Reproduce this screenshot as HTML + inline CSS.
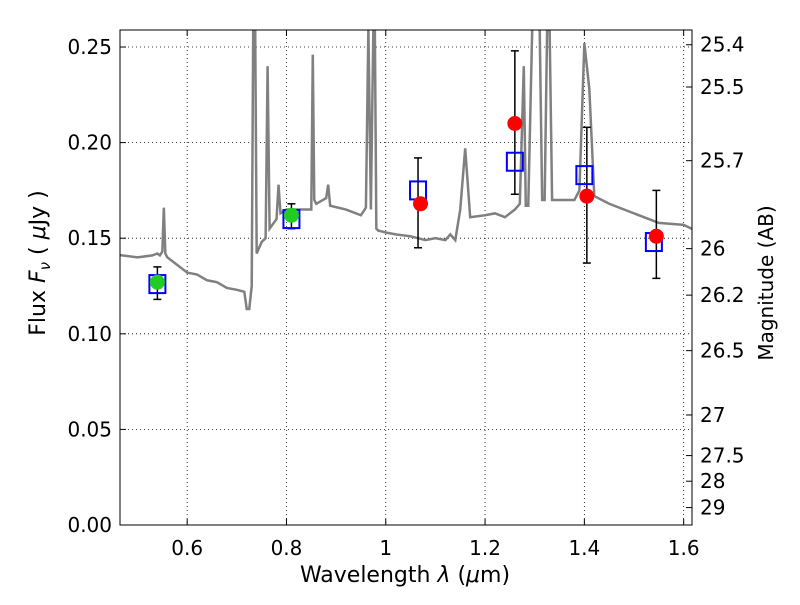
<!DOCTYPE html>
<html><head><meta charset="utf-8"><style>
body{margin:0;background:#fff;font-family:"Liberation Sans","DejaVu Sans",sans-serif}
svg text{font-family:"DejaVu Sans","Liberation Sans",sans-serif;fill:#000}
</style></head><body>
<svg id="chart" width="800" height="600" xmlns="http://www.w3.org/2000/svg">
<defs><clipPath id="clip"><rect x="120" y="30" width="572" height="495"/></clipPath></defs>
<rect x="0" y="0" width="800" height="600" fill="#fff"/>
<g id="grid"></g>
<g id="spec" clip-path="url(#clip)"></g>
<g id="marks"></g>
<rect x="120" y="30" width="572" height="495" fill="none" stroke="#000" stroke-width="1"/>
<g id="axes"></g>
<text x="405" y="582" font-size="22" text-anchor="middle">Wavelength  <tspan font-style="italic">λ</tspan> (<tspan font-style="italic">μ</tspan>m)</text>
<text transform="translate(45,263) rotate(-90)" font-size="22" text-anchor="middle">Flux  <tspan font-style="italic">F</tspan><tspan font-style="italic" font-size="15" dy="5">ν</tspan><tspan dy="-5">  ( </tspan><tspan font-style="italic">μ</tspan>Jy )</text>
<text transform="translate(773,283) rotate(-90)" font-size="20" text-anchor="middle">Magnitude (AB)</text>
</svg>
<script>
const xTicks=[0.6,0.8,1.0,1.2,1.4,1.6];
const xTickLabels=["0.6","0.8","1","1.2","1.4","1.6"];
const yTicks=[0,0.05,0.10,0.15,0.20,0.25];
const yTickLabels=["0.00","0.05","0.10","0.15","0.20","0.25"];
const magTicks=[25.4,25.5,25.7,26,26.2,26.5,27,27.5,28,29];
const specWave=[0.44,0.5,0.53,0.54,0.545,0.55,0.553,0.556,0.56,0.6,0.62,0.64,0.66,0.68,0.7,0.715,0.72,0.725,0.73,0.733,0.737,0.74,0.75,0.758,0.762,0.766,0.78,0.784,0.788,0.8,0.85,0.853,0.856,0.86,0.88,0.884,0.888,0.92,0.95,0.96,0.965,0.97,0.975,0.978,0.981,0.985,1.0,1.02,1.05,1.08,1.1,1.12,1.13,1.14,1.15,1.16,1.17,1.2,1.22,1.24,1.26,1.27,1.278,1.282,1.287,1.295,1.3,1.31,1.315,1.32,1.325,1.33,1.335,1.34,1.38,1.39,1.4,1.41,1.42,1.45,1.5,1.55,1.6,1.64];
const specFlux=[0.142,0.140,0.141,0.142,0.141,0.143,0.166,0.142,0.140,0.132,0.131,0.128,0.127,0.124,0.123,0.122,0.113,0.113,0.125,0.26,0.26,0.142,0.148,0.150,0.240,0.155,0.160,0.178,0.163,0.165,0.165,0.246,0.170,0.168,0.171,0.178,0.167,0.165,0.162,0.166,0.26,0.165,0.26,0.26,0.155,0.154,0.153,0.152,0.151,0.149,0.150,0.149,0.152,0.149,0.165,0.197,0.161,0.162,0.163,0.161,0.165,0.168,0.240,0.167,0.167,0.26,0.26,0.26,0.170,0.170,0.26,0.26,0.170,0.170,0.170,0.175,0.252,0.228,0.172,0.168,0.163,0.158,0.157,0.152];
const errWave=[0.54,0.81,1.065,1.26,1.405,1.545];
const errLow=[0.118,0.155,0.145,0.173,0.137,0.129];
const errHigh=[0.135,0.168,0.192,0.248,0.208,0.175];
const squareWave=[0.54,0.81,1.065,1.26,1.40,1.54];
const squareFlux=[0.126,0.160,0.175,0.190,0.183,0.148];
const greenWave=[0.54,0.81];
const greenFlux=[0.127,0.162];
const redWave=[1.07,1.26,1.405,1.545];
const redFlux=[0.168,0.210,0.172,0.151];

const X0=120,X1=692,Y0=525,Y1=30,XMIN=0.4647,XMAX=1.6168,YMIN=0,YMAX=0.2589;
const sx=v=>X0+(v-XMIN)/(XMAX-XMIN)*(X1-X0);
const sy=v=>Y0-(v-YMIN)/(YMAX-YMIN)*(Y0-Y1);
const NS="http://www.w3.org/2000/svg";
function mk(t,a,p){const e=document.createElementNS(NS,t);for(const k in a)e.setAttribute(k,a[k]);p.appendChild(e);return e;}
const grid=document.getElementById('grid'),axes=document.getElementById('axes'),spec=document.getElementById('spec'),marks=document.getElementById('marks');
xTicks.forEach((v,i)=>{const x=sx(v);
 const g=mk('line',{x1:x,x2:x,y1:Y1,y2:Y0,stroke:'#000','stroke-dasharray':'1,3','stroke-width':0.8},grid);
 
 mk('line',{x1:x,x2:x,y1:Y0,y2:Y0-6,stroke:'#000'},axes);mk('line',{x1:x,x2:x,y1:Y1,y2:Y1+6,stroke:'#000'},axes);
 const t=mk('text',{x:x,y:Y0+30,'font-size':20,'text-anchor':'middle'},axes);t.textContent=xTickLabels[i];
 });
yTicks.forEach((v,i)=>{const y=sy(v);
 const g=mk('line',{x1:X0,x2:X1,y1:y,y2:y,stroke:'#000','stroke-dasharray':'1,3','stroke-width':0.8},grid);
 
 mk('line',{x1:X0,x2:X0+6,y1:y,y2:y,stroke:'#000'},axes);
 const t=mk('text',{x:X0-8,y:y+7,'font-size':20,'text-anchor':'end'},axes);t.textContent=yTickLabels[i];
 });
magTicks.forEach(m=>{const f=Math.pow(10,(23.9-m)/2.5);const y=sy(f);
 mk('line',{x1:X1,x2:X1-6,y1:y,y2:y,stroke:'#000'},axes);
 const t=mk('text',{x:X1+8,y:y+7,'font-size':20},axes);t.textContent=String(m);
 });
const pl=mk('polyline',{points:specWave.map((w,i)=>sx(w)+','+sy(specFlux[i])).join(' '),fill:'none',stroke:'#808080','stroke-width':2.5},spec);

errWave.forEach((w,i)=>{const x=sx(w),a=sy(errLow[i]),b=sy(errHigh[i]);
 const e=mk('g',{},marks);
 mk('line',{x1:x,x2:x,y1:a,y2:b,stroke:'#000','stroke-width':1.5},e);
 mk('line',{x1:x-4,x2:x+4,y1:a,y2:a,stroke:'#000','stroke-width':1.5},e);
 mk('line',{x1:x-4,x2:x+4,y1:b,y2:b,stroke:'#000','stroke-width':1.5},e);});
squareWave.forEach((w,i)=>{const r=mk('rect',{x:sx(w)-8,y:sy(squareFlux[i])-9,width:16,height:18,fill:'none',stroke:'#0000ff','stroke-width':2},marks);
 });
greenWave.forEach((w,i)=>{const c=mk('circle',{cx:sx(w),cy:sy(greenFlux[i]),r:7.5,fill:'#22cc22',stroke:'none'},marks);
 });
redWave.forEach((w,i)=>{const c=mk('circle',{cx:sx(w),cy:sy(redFlux[i]),r:7.5,fill:'#ff0000',stroke:'none'},marks);
 });
</script>
</body></html>
